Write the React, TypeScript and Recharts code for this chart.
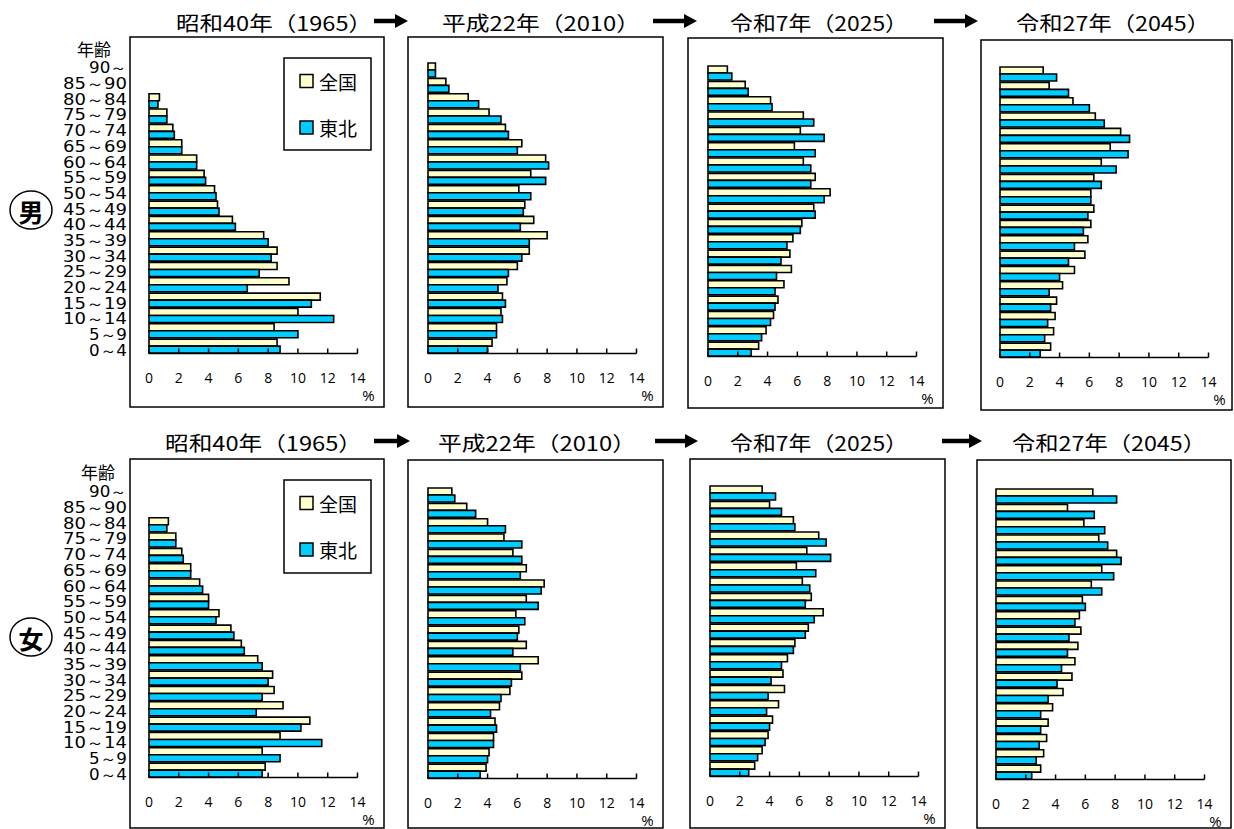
import React from 'react';
import { BarChart, Bar, XAxis, YAxis } from 'recharts';

const ages = ['90～', '85～90', '80～84', '75～79', '70～74', '65～69', '60～64', '55～59', '50～54', '45～49', '40～44', '35～39', '30～34', '25～29', '20～24', '15～19', '10～14', '5～9', '0～4'];
const xTicks = [0, 2, 4, 6, 8, 10, 12, 14];
const seriesNames = ['全国', '東北'];
const seriesColors = ['#FFFFCC', '#00CCFF'];

// 男
const male1965Japan = [null, null, 0.7, 1.2, 1.6, 2.2, 3.2, 3.7, 4.4, 4.6, 5.6, 7.7, 8.6, 8.6, 9.4, 11.5, 10.0, 8.4, 8.6];
const male1965Tohoku = [null, null, 0.6, 1.2, 1.7, 2.2, 3.2, 3.8, 4.5, 4.7, 5.8, 8.0, 8.2, 7.4, 6.6, 10.9, 12.4, 10.0, 8.8];
const male2010Japan = [0.5, 1.2, 2.7, 4.1, 5.2, 6.3, 7.9, 6.9, 6.1, 6.5, 7.1, 8.0, 6.8, 6.0, 5.3, 5.0, 4.9, 4.6, 4.3];
const male2010Tohoku = [0.5, 1.4, 3.4, 4.9, 5.4, 6.0, 8.1, 7.9, 6.9, 6.4, 6.2, 6.8, 6.3, 5.4, 4.7, 5.2, 5.0, 4.6, 4.0];
const male2025Japan = [1.3, 2.5, 4.2, 6.4, 6.2, 5.8, 6.4, 7.2, 8.2, 7.1, 6.3, 5.7, 5.5, 5.6, 5.1, 4.7, 4.4, 3.9, 3.4];
const male2025Tohoku = [1.6, 2.7, 4.3, 7.1, 7.8, 7.2, 6.9, 6.9, 7.8, 7.2, 6.2, 5.3, 4.9, 4.6, 4.5, 4.5, 4.2, 3.6, 2.9];
const male2045Japan = [2.9, 3.3, 4.9, 6.4, 8.1, 7.4, 6.8, 6.3, 6.1, 6.3, 6.1, 5.9, 5.7, 5.0, 4.2, 3.8, 3.7, 3.6, 3.4];
const male2045Tohoku = [3.8, 4.6, 6.0, 7.0, 8.7, 8.6, 7.8, 6.8, 6.1, 5.9, 5.6, 5.0, 4.6, 4.0, 3.3, 3.4, 3.2, 3.0, 2.7];

// 女
const female1965Japan = [null, null, 1.3, 1.8, 2.2, 2.8, 3.4, 4.0, 4.7, 5.5, 6.2, 7.3, 8.3, 8.4, 9.0, 10.8, 8.8, 7.6, 7.8];
const female1965Tohoku = [null, null, 1.2, 1.8, 2.3, 2.8, 3.6, 4.0, 4.5, 5.7, 6.4, 7.6, 8.0, 7.6, 7.2, 10.2, 11.6, 8.8, 7.6];
const female2010Japan = [1.6, 2.6, 4.0, 5.1, 5.7, 6.6, 7.8, 6.6, 5.9, 6.1, 6.6, 7.4, 6.3, 5.5, 4.8, 4.5, 4.4, 4.1, 3.9];
const female2010Tohoku = [1.8, 3.2, 5.2, 6.3, 6.3, 6.2, 7.6, 7.4, 6.5, 6.0, 5.7, 6.2, 5.6, 4.9, 4.2, 4.6, 4.4, 4.0, 3.5];
const female2025Japan = [3.5, 4.0, 5.6, 7.3, 6.5, 5.8, 6.2, 6.8, 7.6, 6.6, 5.7, 5.2, 4.9, 5.0, 4.6, 4.2, 3.9, 3.5, 3.0];
const female2025Tohoku = [4.4, 4.8, 5.7, 7.8, 8.1, 7.1, 6.7, 6.4, 7.0, 6.4, 5.6, 4.8, 4.1, 3.9, 3.8, 4.0, 3.7, 3.2, 2.6];
const female2045Japan = [6.5, 4.8, 5.9, 6.9, 8.1, 7.1, 6.4, 5.8, 5.6, 5.7, 5.5, 5.3, 5.1, 4.5, 3.8, 3.5, 3.4, 3.2, 3.0];
const female2045Tohoku = [8.1, 6.6, 7.3, 7.5, 8.4, 7.9, 7.1, 6.0, 5.3, 4.9, 4.8, 4.4, 4.1, 3.5, 3.0, 3.0, 2.9, 2.7, 2.4];

const titles = ['昭和40年（1965）', '平成22年（2010）', '令和7年（2025）', '令和27年（2045）'];

const PLOT_W = 208.5;
const PLOT_H = 291.5;

const XTick = (props: any) => {
  const { x, y, payload } = props;
  return (
    <g>
      <text x={x} y={y + 34} textAnchor="middle" fontSize={14} fontFamily="'Open Sans', sans-serif" fill="#000">
        {payload.value}
      </text>
      {payload.value === 14 && (
        <text x={x + 11} y={y + 52} textAnchor="middle" fontSize={15} fontFamily="'Open Sans', sans-serif" fill="#000">
          %
        </text>
      )}
    </g>
  );
};

const YTick = (props: any) => {
  const { x, y, payload, index } = props;
  const label = String(payload.value);
  const digits = label.replace('～', '').length;
  const adj = -1.7 + 0.33 * index;
  return (
    <text
      x={x - 22}
      y={y + 5.5 + adj}
      textAnchor="end"
      fontSize={15}
      fontFamily="'DejaVu Sans', sans-serif"
      fill="#000"
      textLength={digits * 13 + 12}
      lengthAdjust="spacingAndGlyphs"
    >
      {label}
    </text>
  );
};

const Panel = ({ japan, tohoku, left, top, labels }: any) => {
  const data = ages.map((age, i) => ({ age, japan: japan[i], tohoku: tohoku[i] }));
  const yw = labels ? 140 : 0;
  const ml = labels ? 0 : 12;
  const mt = 8;
  const mr = 24;
  const xh = 58;
  return (
    <div style={{ position: 'absolute', left: left - yw - ml, top: top - mt }}>
      <BarChart
        width={ml + yw + PLOT_W + mr}
        height={mt + PLOT_H + xh}
        data={data}
        layout="vertical"
        margin={{ top: mt, right: mr, bottom: 0, left: ml }}
        barCategoryGap={1}
        barGap={0}
      >
        <XAxis
          type="number"
          domain={[0, 14]}
          ticks={xTicks}
          interval={0}
          height={xh}
          axisLine={{ stroke: '#000', strokeWidth: 1.5 }}
          tickLine={{ stroke: '#000', strokeWidth: 1.5 }}
          tickSize={-5}
          tickMargin={0}
          tick={<XTick />}
        />
        <YAxis
          type="category"
          dataKey="age"
          hide={!labels}
          width={yw}
          axisLine={false}
          tickLine={false}
          tickSize={0}
          tickMargin={0}
          interval={0}
          tick={<YTick />}
        />
        <Bar dataKey="japan" name={seriesNames[0]} fill={seriesColors[0]} stroke="#000" strokeWidth={1.6} isAnimationActive={false} />
        <Bar dataKey="tohoku" name={seriesNames[1]} fill={seriesColors[1]} stroke="#000" strokeWidth={1.6} isAnimationActive={false} />
      </BarChart>
    </div>
  );
};

const Arrow = ({ x1, x2, y }: any) => (
  <g>
    <line x1={x1} y1={y} x2={x2 - 11} y2={y} stroke="#000" strokeWidth={4.5} />
    <polygon points={`${x2 - 13},${y - 7} ${x2},${y} ${x2 - 13},${y + 7}`} fill="#000" />
  </g>
);

const LegendBox = ({ x, y, h }: any) => (
  <g>
    <rect x={x} y={y} width={87} height={h} fill="#fff" stroke="#000" strokeWidth={1.5} />
    {seriesNames.map((n, i) => {
      const cy = y + 23 + i * 46.5;
      return (
        <g key={n}>
          <rect x={x + 16} y={cy - 6.5} width={13} height={13} fill={seriesColors[i]} stroke="#000" strokeWidth={1.5} />
          <text x={x + 35} y={cy} dominantBaseline="central" fontSize={19} fontFamily="'Noto Sans CJK JP', sans-serif" fill="#000">
            {n}
          </text>
        </g>
      );
    })}
  </g>
);

const Title = ({ text, x, w, y }: any) => (
  <text
    x={x}
    y={y}
    dominantBaseline="central"
    fontSize={20}
    fontFamily="'Noto Sans CJK JP', sans-serif"
    fill="#000"
    textLength={w}
    lengthAdjust="spacingAndGlyphs"
  >
    {text}
  </text>
);

export default function App() {
  return (
    <div style={{ position: 'absolute', left: 0, top: 0, width: 1234, height: 829, background: '#fff' }}>
      <svg width={1234} height={829} style={{ position: 'absolute', left: 0, top: 0 }}>
        {/* panel frames */}
        <rect x={130} y={37} width={254} height={370} fill="none" stroke="#000" strokeWidth={1.5} />
        <rect x={408} y={37} width={255} height={370} fill="none" stroke="#000" strokeWidth={1.5} />
        <rect x={688} y={38} width={255} height={370} fill="none" stroke="#000" strokeWidth={1.5} />
        <rect x={981} y={40} width={251} height={370} fill="none" stroke="#000" strokeWidth={1.5} />
        <rect x={130} y={459} width={254} height={369} fill="none" stroke="#000" strokeWidth={1.5} />
        <rect x={408} y={460} width={255} height={368} fill="none" stroke="#000" strokeWidth={1.5} />
        <rect x={690} y={459} width={255} height={369} fill="none" stroke="#000" strokeWidth={1.5} />
        <rect x={977} y={460} width={254} height={368} fill="none" stroke="#000" strokeWidth={1.5} />

        {/* titles */}
        <Title text={titles[0]} x={176} w={196} y={22} />
        <Title text={titles[1]} x={442} w={198} y={22} />
        <Title text={titles[2]} x={730} w={178} y={22} />
        <Title text={titles[3]} x={1016} w={194} y={22} />
        <Title text={titles[0]} x={165} w={197} y={442} />
        <Title text={titles[1]} x={438} w={198} y={442} />
        <Title text={titles[2]} x={730} w={178} y={442} />
        <Title text={titles[3]} x={1012} w={194} y={442} />

        <Arrow x1={374} x2={408} y={21} />
        <Arrow x1={653} x2={697} y={21} />
        <Arrow x1={934} x2={978} y={21} />
        <Arrow x1={374} x2={410} y={441} />
        <Arrow x1={655} x2={698} y={441} />
        <Arrow x1={942} x2={982} y={441} />

        {/* 男 / 女 */}
        <ellipse cx={31} cy={210} rx={21} ry={19} fill="none" stroke="#000" strokeWidth={1.5} />
        <text x={31} y={211} textAnchor="middle" dominantBaseline="central" fontSize={25} fontWeight="bold" fontFamily="'Noto Sans CJK JP', sans-serif">男</text>
        <ellipse cx={31} cy={637} rx={21} ry={19} fill="none" stroke="#000" strokeWidth={1.5} />
        <text x={31} y={638} textAnchor="middle" dominantBaseline="central" fontSize={25} fontWeight="bold" fontFamily="'Noto Sans CJK JP', sans-serif">女</text>

        <text x={94} y={48} textAnchor="middle" dominantBaseline="central" fontSize={17} fontFamily="'Noto Sans CJK JP', sans-serif">年齢</text>
        <text x={98} y={471} textAnchor="middle" dominantBaseline="central" fontSize={17} fontFamily="'Noto Sans CJK JP', sans-serif">年齢</text>
      </svg>

      <Panel japan={male1965Japan} tohoku={male1965Tohoku} left={149} top={62.3} labels />
      <Panel japan={male2010Japan} tohoku={male2010Tohoku} left={428} top={62.3} />
      <Panel japan={male2025Japan} tohoku={male2025Tohoku} left={708} top={64.5} />
      <Panel japan={male2045Japan} tohoku={male2045Tohoku} left={1000.3} top={66.3} />
      <Panel japan={female1965Japan} tohoku={female1965Tohoku} left={149} top={486} labels />
      <Panel japan={female2010Japan} tohoku={female2010Tohoku} left={428} top={487.3} />
      <Panel japan={female2025Japan} tohoku={female2025Tohoku} left={709.7} top={485.3} />
      <Panel japan={female2045Japan} tohoku={female2045Tohoku} left={996.3} top={487.5} />

      <svg width={1234} height={829} style={{ position: 'absolute', left: 0, top: 0, pointerEvents: 'none' }}>
        <LegendBox x={284} y={58} h={92} />
        <LegendBox x={284} y={480} h={93} />
      </svg>
    </div>
  );
}
